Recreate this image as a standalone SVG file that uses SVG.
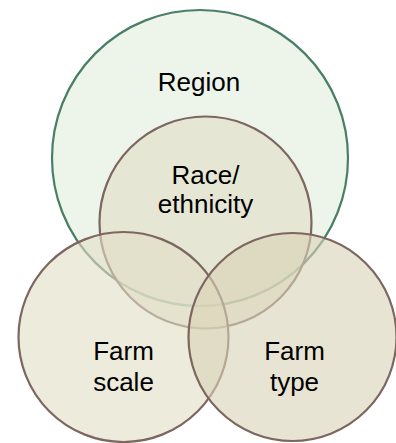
<svg xmlns="http://www.w3.org/2000/svg" width="396" height="443" viewBox="0 0 396 443">
  <style>
    .lbl { font-family: "Liberation Sans", Arial, sans-serif; font-size: 26px; fill: #000; text-anchor: middle; }
    .beige { stroke: #7E6660; stroke-width: 2.2; }
  </style>
  <rect width="396" height="443" fill="#ffffff"/>
  <g id="region">
    <circle cx="200" cy="158" r="148" fill="#EDF4EA" stroke="#4A7F66" stroke-width="2.2"/>
    <text class="lbl" x="199" y="91">Region</text>
  </g>
  <g id="race-ethnicity">
    <circle class="beige" cx="205.5" cy="222.5" r="106" fill="rgb(224,221,196)" fill-opacity="0.6"/>
    <text class="lbl" x="205.5" y="184">Race/</text>
    <text class="lbl" x="205.5" y="213">ethnicity</text>
  </g>
  <g id="farm-scale">
    <circle class="beige" cx="123.5" cy="337" r="105" fill="rgb(225,222,197)" fill-opacity="0.6"/>
    <text class="lbl" x="123.5" y="360">Farm</text>
    <text class="lbl" x="123.5" y="391">scale</text>
  </g>
  <g id="farm-type">
    <circle class="beige" cx="292.5" cy="337" r="104" fill="rgb(217,210,182)" fill-opacity="0.6"/>
    <text class="lbl" x="294.5" y="360">Farm</text>
    <text class="lbl" x="294.5" y="391">type</text>
  </g>
  <g id="connectors"/>
</svg>
